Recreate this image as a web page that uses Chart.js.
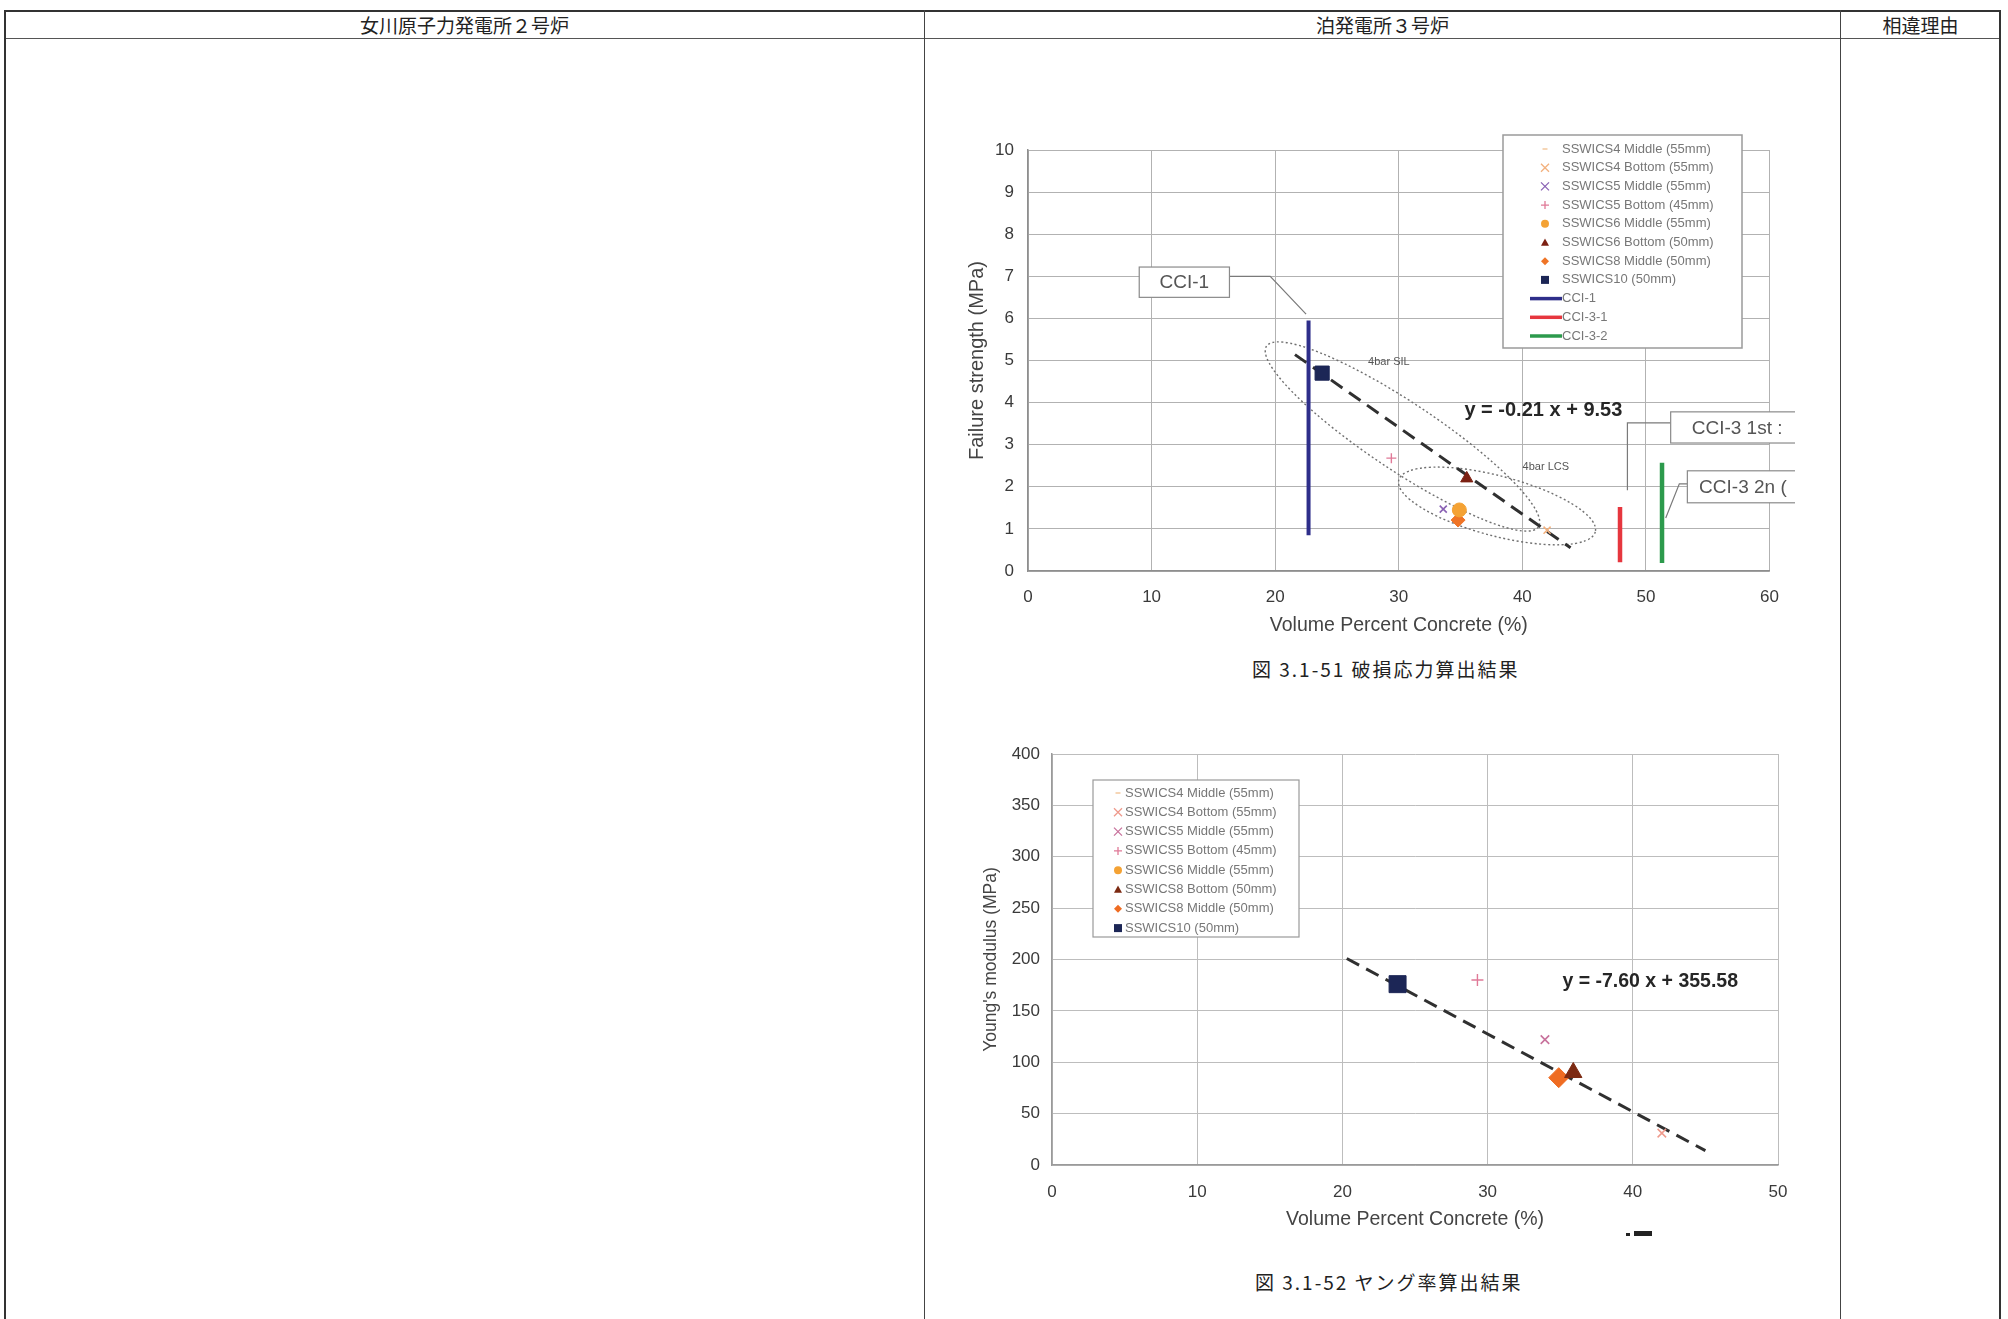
<!DOCTYPE html>
<html>
<head>
<meta charset="utf-8">
<script src="https://cdn.jsdelivr.net/npm/chart.js@4.4.0/dist/chart.umd.min.js"></script>
<style>
  body { margin: 0; width: 2008px; height: 1319px; background: #fff; position: relative; overflow: hidden;
         font-family: "Noto Sans CJK JP", sans-serif; }
  .ln { position: absolute; background: #333; }
  .hd { position: absolute; top: 11px; height: 27px; line-height: 27px; text-align: center; font-size: 19px; color: #222; }
  .cap { position: absolute; font-size: 19px; color: #222; white-space: nowrap; letter-spacing: 2px; }
  canvas { position: absolute; }
</style>
</head>
<body>
<!-- table frame -->
<div class="ln" style="left:4px;top:10px;width:1997px;height:2px"></div>
<div class="ln" style="left:4px;top:38px;width:1997px;height:1px;background:#555"></div>
<div class="ln" style="left:4px;top:10px;width:2px;height:1310px"></div>
<div class="ln" style="left:924px;top:10px;width:1px;height:1310px;background:#444"></div>
<div class="ln" style="left:1840px;top:10px;width:1px;height:1310px;background:#444"></div>
<div class="ln" style="left:1999px;top:10px;width:2px;height:1310px"></div>

<div class="hd" style="left:4px;width:921px">女川原子力発電所２号炉</div>
<div class="hd" style="left:925px;width:915px">泊発電所３号炉</div>
<div class="hd" style="left:1841px;width:159px">相違理由</div>

<canvas id="c1" width="855" height="530" style="left:940px;top:120px"></canvas>
<div class="cap" style="left:1252px;top:655px">図 3.1-51 破損応力算出結果</div>

<canvas id="c2" width="860" height="540" style="left:950px;top:720px"></canvas>
<div style="position:absolute;left:1626px;top:1233px;width:4px;height:3px;background:#222"></div>
<div style="position:absolute;left:1634px;top:1231px;width:18px;height:5px;background:#222"></div>
<div class="cap" style="left:1255px;top:1268px">図 3.1-52 ヤング率算出結果</div>

<script>
// ---- failure strength chart (図 3.1-51) ----
const fsXTicks = [0, 10, 20, 30, 40, 50, 60];
const fsYTicks = [0, 1, 2, 3, 4, 5, 6, 7, 8, 9, 10];
const fsNames = ['SSWICS4 Middle (55mm)', 'SSWICS4 Bottom (55mm)', 'SSWICS5 Middle (55mm)',
  'SSWICS5 Bottom (45mm)', 'SSWICS6 Middle (55mm)', 'SSWICS6 Bottom (50mm)',
  'SSWICS8 Middle (50mm)', 'SSWICS10 (50mm)', 'CCI-1', 'CCI-3-1', 'CCI-3-2'];
const fsSswics4Middle = [];
const fsSswics4Bottom = [[42.0, 0.97]];
const fsSswics5Middle = [[33.6, 1.47]];
const fsSswics5Bottom = [[29.4, 2.68]];
const fsSswics6Middle = [[34.9, 1.45]];
const fsSswics6Bottom = [[35.5, 2.2]];
const fsSswics8Middle = [[34.8, 1.21]];
const fsSswics10 = [[23.8, 4.7]];
const fsCci1 = [[22.7, 0.85], [22.7, 5.95]];
const fsCci31 = [[47.9, 0.21], [47.9, 1.52]];
const fsCci32 = [[51.3, 0.19], [51.3, 2.57]];
const fsTrend = [[21.6, 5.14], [43.9, 0.55]];

// ---- Young's modulus chart (図 3.1-52) ----
const ymXTicks = [0, 10, 20, 30, 40, 50];
const ymYTicks = [0, 50, 100, 150, 200, 250, 300, 350, 400];
const ymNames = ['SSWICS4 Middle (55mm)', 'SSWICS4 Bottom (55mm)', 'SSWICS5 Middle (55mm)',
  'SSWICS5 Bottom (45mm)', 'SSWICS6 Middle (55mm)', 'SSWICS8 Bottom (50mm)',
  'SSWICS8 Middle (50mm)', 'SSWICS10 (50mm)'];
const ymSswics4Middle = [];
const ymSswics4Bottom = [[42.0, 31]];
const ymSswics5Middle = [[33.95, 122]];
const ymSswics5Bottom = [[29.3, 180]];
const ymSswics6Middle = [];
const ymSswics8Bottom = [[35.9, 90]];
const ymSswics8Middle = [[34.9, 85]];
const ymSswics10 = [[23.8, 176]];
const ymTrend = [[20.3, 201], [45.0, 14]];

Chart.defaults.font.family = '"Liberation Sans", Arial, sans-serif';

const pts = a => a.map(p => ({x: p[0], y: p[1]}));

function pointSet(label, data, style, color, r, bw) {
  return {label: label, data: pts(data), pointStyle: style, pointRadius: r, pointHoverRadius: r,
    backgroundColor: color, borderColor: color, pointBorderWidth: bw || 1, showLine: false,
    mark: {style: style, color: color}};
}
function lineSet(label, data, color, w) {
  return {label: label, data: pts(data), showLine: true, pointRadius: 0, borderColor: color,
    backgroundColor: color, borderWidth: w, borderCapStyle: 'butt', mark: {line: true, color: color}};
}
function trendSet(data) {
  return {label: 'trend', data: pts(data), showLine: true, pointRadius: 0, borderColor: '#303030',
    borderWidth: 3, borderDash: [14, 8], noLegend: true};
}

function drawMark(ctx, style, x, y, r, color) {
  ctx.save();
  ctx.fillStyle = color; ctx.strokeStyle = color; ctx.lineWidth = 1.3;
  ctx.beginPath();
  if (style === 'dash') { ctx.moveTo(x - r, y); ctx.lineTo(x + r, y); ctx.stroke(); }
  else if (style === 'crossRot') { ctx.moveTo(x - r, y - r); ctx.lineTo(x + r, y + r); ctx.moveTo(x - r, y + r); ctx.lineTo(x + r, y - r); ctx.stroke(); }
  else if (style === 'cross') { ctx.moveTo(x - r, y); ctx.lineTo(x + r, y); ctx.moveTo(x, y - r); ctx.lineTo(x, y + r); ctx.stroke(); }
  else if (style === 'circle') { ctx.arc(x, y, r, 0, Math.PI * 2); ctx.fill(); }
  else if (style === 'triangle') { ctx.moveTo(x, y - r); ctx.lineTo(x + r, y + r * 0.8); ctx.lineTo(x - r, y + r * 0.8); ctx.closePath(); ctx.fill(); }
  else if (style === 'rectRot') { ctx.moveTo(x, y - r); ctx.lineTo(x + r, y); ctx.lineTo(x, y + r); ctx.lineTo(x - r, y); ctx.closePath(); ctx.fill(); }
  else if (style === 'rect') { ctx.rect(x - r, y - r, 2 * r, 2 * r); ctx.fill(); }
  ctx.restore();
}

// ellipses, callouts, free texts and the boxed legend
const decor = {
  id: 'decor',
  beforeDatasetsDraw(chart, args, o) {
    const {ctx, scales: {x, y}} = chart;
    (o.ellipses || []).forEach(e => {
      const x1 = x.getPixelForValue(e.from[0]), y1 = y.getPixelForValue(e.from[1]);
      const x2 = x.getPixelForValue(e.to[0]), y2 = y.getPixelForValue(e.to[1]);
      ctx.save();
      ctx.setLineDash([2, 2.5]);
      ctx.strokeStyle = '#707070';
      ctx.lineWidth = 1.4;
      ctx.beginPath();
      ctx.ellipse((x1 + x2) / 2, (y1 + y2) / 2, Math.hypot(x2 - x1, y2 - y1) / 2, e.minor,
        Math.atan2(y2 - y1, x2 - x1), 0, Math.PI * 2);
      ctx.stroke();
      ctx.restore();
    });
  },
  afterDraw(chart, args, o) {
    const {ctx, scales: {x, y}} = chart;
    (o.callouts || []).forEach(c => {
      const l = x.getPixelForValue(c.box[0]), t = y.getPixelForValue(c.box[1]);
      const r = x.getPixelForValue(c.box[2]), b = y.getPixelForValue(c.box[3]);
      ctx.save();
      ctx.strokeStyle = '#7a7a7a'; ctx.lineWidth = 1.2;
      ctx.beginPath();
      c.leader.forEach((p, i) => {
        const px = x.getPixelForValue(p[0]), py = y.getPixelForValue(p[1]);
        if (i === 0) ctx.moveTo(px, py); else ctx.lineTo(px, py);
      });
      ctx.stroke();
      ctx.fillStyle = '#fff';
      ctx.fillRect(l, t, r - l, b - t);
      ctx.strokeStyle = '#8a8a8a';
      ctx.strokeRect(l, t, r - l, b - t);
      ctx.fillStyle = '#555';
      ctx.font = '19px "Liberation Sans", Arial, sans-serif';
      ctx.textBaseline = 'middle';
      if (c.textAt === undefined) { ctx.textAlign = 'center'; ctx.fillText(c.text, (l + r) / 2, (t + b) / 2 + 1); }
      else { ctx.textAlign = 'left'; ctx.fillText(c.text, x.getPixelForValue(c.textAt), (t + b) / 2 + 1); }
      ctx.restore();
    });
    (o.texts || []).forEach(tx => {
      ctx.save();
      ctx.fillStyle = tx.color;
      ctx.font = tx.font;
      ctx.textAlign = 'center';
      ctx.textBaseline = 'middle';
      ctx.fillText(tx.text, x.getPixelForValue(tx.at[0]), y.getPixelForValue(tx.at[1]));
      ctx.restore();
    });
    const lg = o.legend;
    if (!lg) return;
    ctx.save();
    ctx.fillStyle = '#fff';
    ctx.fillRect(lg.left, lg.top, lg.width, lg.height);
    ctx.strokeStyle = '#9a9a9a';
    ctx.lineWidth = lg.border;
    ctx.strokeRect(lg.left, lg.top, lg.width, lg.height);
    ctx.font = lg.font;
    ctx.textBaseline = 'middle';
    ctx.textAlign = 'left';
    chart.data.datasets.filter(d => !d.noLegend).forEach((d, i) => {
      const cy = lg.row0 + i * lg.gap;
      if (d.mark.line) {
        ctx.strokeStyle = d.mark.color; ctx.lineWidth = 3.5;
        ctx.beginPath(); ctx.moveTo(lg.lineX0, cy); ctx.lineTo(lg.textX, cy); ctx.stroke();
      } else {
        drawMark(ctx, d.mark.style, lg.markX, cy, d.mark.style === 'dash' ? 2.5 : 4, d.mark.color);
      }
      ctx.fillStyle = '#777';
      ctx.fillText(d.label, lg.textX, cy);
    });
    ctx.restore();
  }
};

function tickSetter(list) {
  return s => { s.ticks = list.map(v => ({value: v})); };
}

const ds1 = [
  pointSet(fsNames[0], fsSswics4Middle, 'dash', '#f2c08e', 4, 1.5),
  pointSet(fsNames[1], fsSswics4Bottom, 'crossRot', '#f3b07c', 5, 1.5),
  pointSet(fsNames[2], fsSswics5Middle, 'crossRot', '#8a62b4', 5, 1.6),
  pointSet(fsNames[3], fsSswics5Bottom, 'cross', '#e07a98', 5, 1.4),
  pointSet(fsNames[4], fsSswics6Middle, 'circle', '#f4a234', 7),
  pointSet(fsNames[5], fsSswics6Bottom, 'triangle', '#7c2012', 7),
  pointSet(fsNames[6], fsSswics8Middle, 'rectRot', '#ef7426', 7),
  pointSet(fsNames[7], fsSswics10, 'rect', '#1c2656', 10),
  lineSet(fsNames[8], fsCci1, '#2e2e8a', 4),
  lineSet(fsNames[9], fsCci31, '#e6363e', 4.5),
  lineSet(fsNames[10], fsCci32, '#2c9a4c', 4.5),
  trendSet(fsTrend)
];

new Chart(document.getElementById('c1'), {
  type: 'scatter',
  data: {datasets: ds1},
  options: {
    responsive: false, animation: false, devicePixelRatio: 1,
    layout: {padding: {left: 0, right: 23, top: 30, bottom: 0}},
    plugins: {
      legend: {display: false}, tooltip: {enabled: false},
      decor: {
        ellipses: [
          {from: [19.3, 5.34], to: [41.3, 1.05], minor: 34},
          {from: [30.0, 2.16], to: [45.9, 0.93], minor: 30}
        ],
        callouts: [
          {box: [9.0, 7.22, 16.3, 6.5], text: 'CCI-1', leader: [[16.3, 7.0], [19.6, 7.0], [22.5, 6.1]]},
          {box: [52.0, 3.78, 63, 3.04], text: 'CCI-3 1st :', textAt: 53.7, leader: [[52.0, 3.52], [48.5, 3.52], [48.5, 1.92]]},
          {box: [53.35, 2.38, 63, 1.62], text: 'CCI-3 2n (', textAt: 54.3, leader: [[53.35, 2.07], [52.7, 2.07], [51.6, 1.26]]}
        ],
        texts: [
          {at: [29.2, 4.96], text: '4bar SIL', font: '11px "Liberation Sans", Arial', color: '#555'},
          {at: [41.9, 2.47], text: '4bar LCS', font: '11px "Liberation Sans", Arial', color: '#555'},
          {at: [41.7, 3.82], text: 'y = -0.21 x + 9.53', font: 'bold 20px "Liberation Sans", Arial', color: '#262626'}
        ],
        legend: {left: 563, top: 15, width: 239, height: 213, border: 1.5, row0: 29, gap: 18.7,
          markX: 605, lineX0: 590, textX: 622, font: '13px "Liberation Sans", Arial'}
      }
    },
    scales: {
      x: {
        type: 'linear', min: 0, max: 60,
        afterBuildTicks: tickSetter(fsXTicks),
        afterFit: s => { s.height = 79; },
        grid: {color: '#b2b2b2', drawTicks: false},
        border: {color: '#8e8e8e', width: 1.5},
        ticks: {padding: 16, font: {size: 17}, color: '#3a3a3a'},
        title: {display: true, text: 'Volume Percent Concrete (%)', font: {size: 19.5}, color: '#444', padding: {top: 0, bottom: 13}}
      },
      y: {
        type: 'linear', min: 0, max: 10,
        afterBuildTicks: tickSetter(fsYTicks),
        afterFit: s => { s.width = 88; },
        grid: {color: '#b2b2b2', drawTicks: false},
        border: {color: '#8e8e8e', width: 1.5},
        ticks: {padding: 14, font: {size: 17}, color: '#3a3a3a'},
        title: {display: true, text: 'Failure strength (MPa)', font: {size: 20}, color: '#444', padding: {top: 25, bottom: 0}}
      }
    }
  },
  plugins: [decor]
});

const ds2 = [
  pointSet(ymNames[0], ymSswics4Middle, 'dash', '#f2c08e', 4, 1.5),
  pointSet(ymNames[1], ymSswics4Bottom, 'crossRot', '#ef9a8c', 6, 1.5),
  pointSet(ymNames[2], ymSswics5Middle, 'crossRot', '#c8729c', 6, 1.6),
  pointSet(ymNames[3], ymSswics5Bottom, 'cross', '#e07a98', 6, 1.4),
  pointSet(ymNames[4], ymSswics6Middle, 'circle', '#f4a234', 8),
  pointSet(ymNames[5], ymSswics8Bottom, 'triangle', '#7c2a12', 10),
  pointSet(ymNames[6], ymSswics8Middle, 'rectRot', '#ef6c22', 10),
  pointSet(ymNames[7], ymSswics10, 'rect', '#1c2656', 12),
  trendSet(ymTrend)
];

new Chart(document.getElementById('c2'), {
  type: 'scatter',
  data: {datasets: ds2},
  options: {
    responsive: false, animation: false, devicePixelRatio: 1,
    layout: {padding: {left: 0, right: 32, top: 34, bottom: 0}},
    plugins: {
      legend: {display: false}, tooltip: {enabled: false},
      decor: {
        texts: [
          {at: [41.2, 178.4], text: 'y = -7.60 x + 355.58', font: 'bold 19.5px "Liberation Sans", Arial', color: '#262626'}
        ],
        legend: {left: 143, top: 60, width: 206, height: 157, border: 1.2, row0: 73, gap: 19.3,
          markX: 168, lineX0: 160, textX: 175, font: '13px "Liberation Sans", Arial'}
      }
    },
    scales: {
      x: {
        type: 'linear', min: 0, max: 50,
        afterBuildTicks: tickSetter(ymXTicks),
        afterFit: s => { s.height = 95; },
        grid: {color: '#bdbdbd', drawTicks: false},
        border: {color: '#9a9a9a', width: 1.5},
        ticks: {padding: 17, font: {size: 17}, color: '#3a3a3a'},
        title: {display: true, text: 'Volume Percent Concrete (%)', font: {size: 19.5}, color: '#444', padding: {top: 0, bottom: 29}}
      },
      y: {
        type: 'linear', min: 0, max: 400,
        afterBuildTicks: tickSetter(ymYTicks),
        afterFit: s => { s.width = 102; },
        grid: {color: '#bdbdbd', drawTicks: false},
        border: {color: '#9a9a9a', width: 1.5},
        ticks: {padding: 12, font: {size: 17}, color: '#3a3a3a'},
        title: {display: true, text: "Young's modulus (MPa)", font: {size: 17.5}, color: '#444', padding: {top: 31, bottom: 0}}
      }
    }
  },
  plugins: [decor]
});
</script>
</body>
</html>
